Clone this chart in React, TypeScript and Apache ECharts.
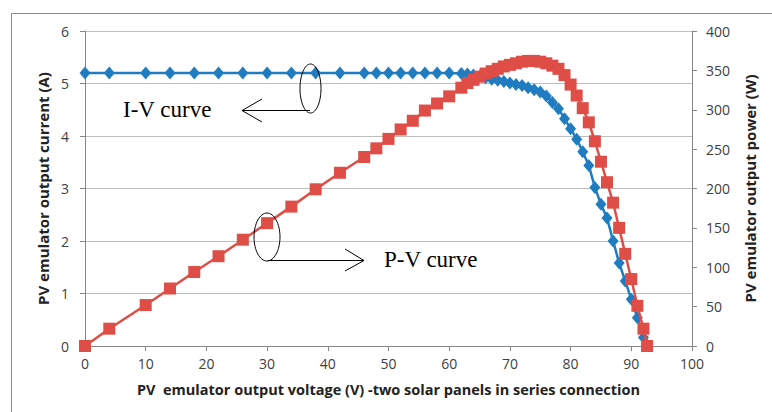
import React, { useEffect, useRef } from "react";
import * as echarts from "echarts";

const voltage = [0, 4, 10, 14, 18, 22, 26, 30, 34, 38, 42, 46, 48, 50, 52, 54, 56, 58, 60, 62, 63, 64, 65, 66, 67, 68, 69, 70, 71, 72, 73, 74, 75, 76, 77, 78, 79, 80, 81, 82, 83, 84, 85, 86, 87, 88, 89, 90, 91, 92, 92.6];
const current = [5.2, 5.2, 5.2, 5.2, 5.2, 5.2, 5.2, 5.2, 5.2, 5.2, 5.2, 5.2, 5.2, 5.2, 5.2, 5.2, 5.2, 5.2, 5.2, 5.19, 5.18, 5.16, 5.14, 5.11, 5.08, 5.06, 5.04, 5.01, 4.98, 4.96, 4.92, 4.88, 4.84, 4.76, 4.64, 4.52, 4.33, 4.14, 3.94, 3.7, 3.44, 3.02, 2.7, 2.44, 2.0, 1.58, 1.24, 0.89, 0.54, 0.16, 0.02];
const power = [0, 22, 52, 73, 94, 114, 135, 156, 177, 199, 220, 240, 251, 263, 275, 286, 299, 308, 317, 328, 334, 338, 342, 346, 349, 352, 355, 357, 359, 361, 362, 362, 361, 359, 356, 352, 344, 332, 318, 302, 284, 260, 234, 208, 182, 150, 117, 85, 51, 22, 0];

const xTitle = "PV  emulator output voltage (V) -two solar panels in series connection";
const leftTitle = "PV emulator output current (A)";
const rightTitle = "PV emulator output power (W)";
const ivLabel = "I-V curve";
const pvLabel = "P-V curve";

const BLUE = "#1F7CC1";
const RED = "#DF4D47";
const LABEL = "#404040";
const FONT = "'Open Sans', 'Noto Sans', sans-serif";

export default function App() {
  const ref = useRef<HTMLDivElement>(null);
  useEffect(() => {
    if (!ref.current) return;
    const chart = echarts.init(ref.current, undefined, { renderer: "svg" });
    const ivData = voltage.map((v, i) => [v, current[i]]);
    const pvData = voltage.map((v, i) => [v, power[i]]);
    chart.setOption({
      animation: false,
      backgroundColor: "#ffffff",
      grid: { left: 85, right: 80, top: 31, bottom: 66 },
      xAxis: {
        type: "value",
        min: 0,
        max: 100,
        interval: 10,
        name: xTitle,
        nameLocation: "middle",
        nameGap: 36,
        nameTextStyle: { fontFamily: FONT, fontSize: 14.5, fontWeight: "bold", color: "#222" },
        axisLine: { show: true, lineStyle: { color: "#868686", width: 1 } },
        axisTick: { show: true, length: 5, lineStyle: { color: "#868686" } },
        axisLabel: { fontFamily: FONT, fontSize: 14, color: LABEL, margin: 10 },
        splitLine: { show: false },
      },
      yAxis: [
        {
          type: "value",
          min: 0,
          max: 6,
          interval: 1,
          position: "left",
          name: leftTitle,
          nameLocation: "middle",
          nameGap: 32,
          nameRotate: 90,
          nameTextStyle: { fontFamily: FONT, fontSize: 15, fontWeight: "bold", color: "#222" },
          axisLine: { show: true, lineStyle: { color: "#868686", width: 1 } },
          axisTick: { show: true, length: 5, lineStyle: { color: "#868686" } },
          axisLabel: { fontFamily: FONT, fontSize: 14, color: LABEL, margin: 16 },
          splitLine: { show: true, lineStyle: { color: "#BEBEBE", width: 1 } },
        },
        {
          type: "value",
          min: 0,
          max: 400,
          interval: 50,
          position: "right",
          name: rightTitle,
          nameLocation: "middle",
          nameGap: 50,
          nameRotate: 90,
          nameTextStyle: { fontFamily: FONT, fontSize: 15, fontWeight: "bold", color: "#222" },
          axisLine: { show: true, lineStyle: { color: "#868686", width: 1 } },
          axisTick: { show: true, length: 5, lineStyle: { color: "#868686" } },
          axisLabel: { fontFamily: FONT, fontSize: 14, color: LABEL, margin: 14 },
          splitLine: { show: false },
        },
      ],
      series: [
        {
          type: "line",
          yAxisIndex: 0,
          data: ivData,
          symbol: "diamond",
          symbolSize: [11, 13],
          lineStyle: { color: BLUE, width: 2.5 },
          itemStyle: { color: BLUE },
          z: 2,
        },
        {
          type: "line",
          yAxisIndex: 1,
          data: pvData,
          symbol: "rect",
          symbolSize: 12,
          lineStyle: { color: RED, width: 2.5 },
          itemStyle: { color: RED },
          z: 3,
        },
      ],
      graphic: [
        {
          type: "rect",
          shape: { x: 11.5, y: 13.5, width: 800, height: 420 },
          style: { fill: "none", stroke: "#8A8A8A", lineWidth: 1 },
          z: 0,
          silent: true,
        },
        {
          type: "ellipse",
          shape: { cx: 310.5, cy: 88.5, rx: 10.5, ry: 24.5 },
          style: { fill: "none", stroke: "#000", lineWidth: 1 },
          z: 100,
        },
        {
          type: "line",
          shape: { x1: 310, y1: 110.5, x2: 242, y2: 110.5 },
          style: { stroke: "#000", lineWidth: 1 },
          z: 100,
        },
        {
          type: "polyline",
          shape: { points: [[262, 99], [242, 110.5], [262, 122]] },
          style: { fill: "none", stroke: "#000", lineWidth: 1 },
          z: 100,
        },
        {
          type: "text",
          style: { text: ivLabel, x: 123, y: 109, font: "23px 'Liberation Serif', serif", fill: "#000", verticalAlign: "middle" },
          z: 100,
        },
        {
          type: "ellipse",
          shape: { cx: 267, cy: 237, rx: 13, ry: 24 },
          style: { fill: "none", stroke: "#000", lineWidth: 1 },
          z: 100,
        },
        {
          type: "line",
          shape: { x1: 268, y1: 260.5, x2: 364, y2: 260.5 },
          style: { stroke: "#000", lineWidth: 1 },
          z: 100,
        },
        {
          type: "polyline",
          shape: { points: [[345, 249], [364, 260.5], [345, 271]] },
          style: { fill: "none", stroke: "#000", lineWidth: 1 },
          z: 100,
        },
        {
          type: "text",
          style: { text: pvLabel, x: 384, y: 259, font: "23px 'Liberation Serif', serif", fill: "#000", verticalAlign: "middle" },
          z: 100,
        },
      ],
    });
    return () => chart.dispose();
  }, []);
  return (
    <div
      ref={ref}
      style={{ position: "fixed", left: 0, top: 0, width: 772, height: 412, background: "#fff" }}
    />
  );
}
